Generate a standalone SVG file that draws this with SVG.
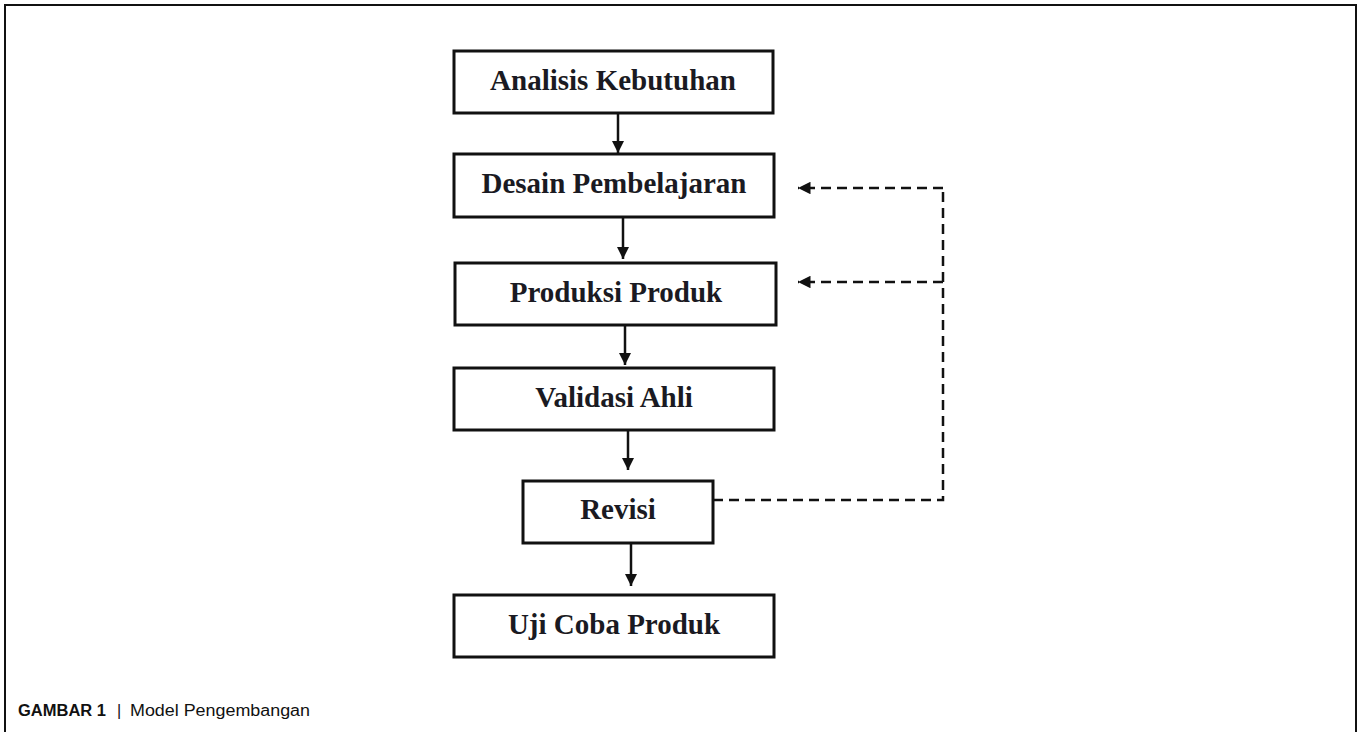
<svg xmlns="http://www.w3.org/2000/svg" width="1361" height="732" viewBox="0 0 1361 732">
<style>
.box{fill:#fff;stroke:#111;stroke-width:3}
.lbl{font-family:"Liberation Serif","Times New Roman",serif;font-weight:bold;font-size:29px;fill:#1a1a22;text-anchor:middle}
.solid{stroke:#111;stroke-width:2.5;fill:none}
.dash{stroke:#111;stroke-width:2.5;fill:none;stroke-dasharray:10 6}
.cap{font-family:"Liberation Sans",Arial,sans-serif;font-size:16px;fill:#111}
</style>
<defs>
<marker id="ah" viewBox="0 0 10 10" refX="10" refY="5" markerWidth="5" markerHeight="5" orient="auto" markerUnits="strokeWidth">
<path d="M0,0 L10,5 L0,10 Z" fill="#111"/>
</marker>
</defs>
<rect width="1361" height="732" fill="#fff"/>
<path d="M5,732 V5 H1356 V732" fill="none" stroke="#111" stroke-width="2"/>
<g id="n1"><rect class="box" x="454" y="51" width="319" height="62"/><text class="lbl" x="613" y="90">Analisis Kebutuhan</text></g>
<g id="n2"><rect class="box" x="454" y="154" width="320" height="63"/><text class="lbl" x="614" y="193">Desain Pembelajaran</text></g>
<g id="n3"><rect class="box" x="455" y="263" width="321" height="62"/><text class="lbl" x="616" y="302">Produksi Produk</text></g>
<g id="n4"><rect class="box" x="454" y="368" width="320" height="62"/><text class="lbl" x="614" y="407">Validasi Ahli</text></g>
<g id="n5"><rect class="box" x="523" y="481" width="190" height="62"/><text class="lbl" x="618" y="519">Revisi</text></g>
<g id="n6"><rect class="box" x="454" y="595" width="320" height="62"/><text class="lbl" x="614" y="634">Uji Coba Produk</text></g>
<g id="connectors">
<line class="solid" x1="618" y1="113" x2="618" y2="153" marker-end="url(#ah)"/>
<line class="solid" x1="623" y1="217" x2="623" y2="259" marker-end="url(#ah)"/>
<line class="solid" x1="625" y1="325" x2="625" y2="365" marker-end="url(#ah)"/>
<line class="solid" x1="628" y1="430" x2="628" y2="470" marker-end="url(#ah)"/>
<line class="solid" x1="631" y1="543" x2="631" y2="586" marker-end="url(#ah)"/>
<path class="dash" d="M713,500 H943 V188"/>
<line class="dash" x1="943" y1="188" x2="798" y2="188" marker-end="url(#ah)"/>
<line class="dash" x1="943" y1="282" x2="798" y2="282" marker-end="url(#ah)"/>
</g>
<g id="caption">
<text class="cap" x="18" y="716" font-weight="bold" textLength="88" lengthAdjust="spacingAndGlyphs">GAMBAR 1</text>
<text class="cap" x="117" y="716">|</text>
<text class="cap" x="130" y="716" textLength="180" lengthAdjust="spacingAndGlyphs">Model Pengembangan</text>
</g>
</svg>
